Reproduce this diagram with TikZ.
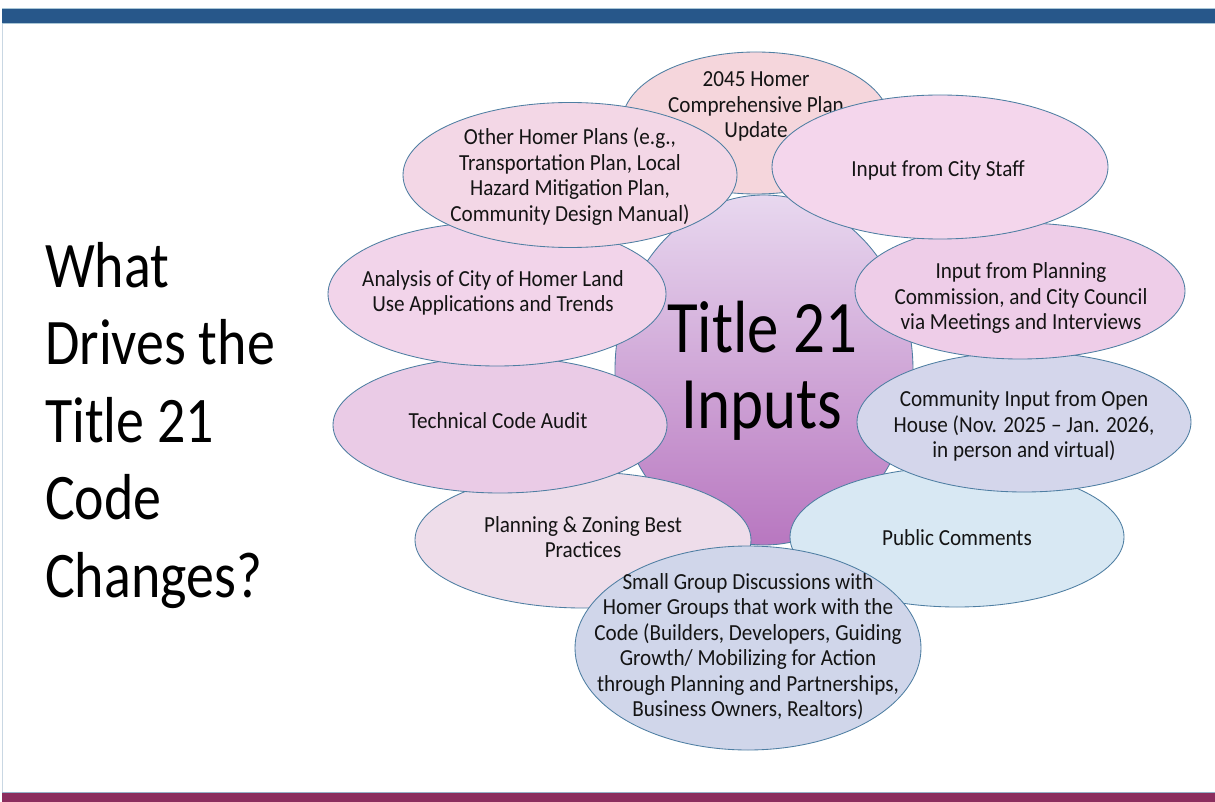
\documentclass[tikz,border=0pt]{standalone}
\usepackage{fontspec}
\usepackage{graphicx}
\setmainfont{Carlito}
\usetikzlibrary{shapes.geometric}
\definecolor{edgec}{HTML}{4E7EA2}
\definecolor{topbar}{HTML}{27578A}
\definecolor{topedge}{HTML}{A9C6D6}
\definecolor{botbar}{HTML}{8B2D5E}
\definecolor{leftc}{HTML}{C9D7E3}
\definecolor{txtc}{HTML}{141414}
\definecolor{cTop}{HTML}{E8D8EF}
\definecolor{cBot}{HTML}{B877C0}
\definecolor{cA}{HTML}{F5D6DC}
\definecolor{cB}{HTML}{F3D7E6}
\definecolor{cC}{HTML}{F4D6EC}
\definecolor{cD}{HTML}{F2D4EA}
\definecolor{cE}{HTML}{EECDE8}
\definecolor{cF}{HTML}{EACBE6}
\definecolor{cG}{HTML}{D4D6EB}
\definecolor{cH}{HTML}{EEDDEA}
\definecolor{cI}{HTML}{D8E8F3}
\definecolor{cJ}{HTML}{D0D6EA}
\newcommand\sqzc[2]{\scalebox{#1}[1]{\begin{tabular}{@{}c@{}}#2\end{tabular}}}
\newcommand\sqzl[2]{\scalebox{#1}[1]{\begin{tabular}[b]{@{}l@{}}#2\end{tabular}}}
\tikzset{
  ell/.style={ellipse, draw=edgec, line width=0.85pt, inner sep=0pt},
  etxt/.style={inner sep=0pt, text=txtc, font=\fontsize{23}{25.5}\selectfont},
}
\begin{document}
\begin{tikzpicture}[x=1pt,y=-1pt]
\useasboundingbox (0,0) rectangle (1215,802);
\fill[white] (0,0) rectangle (1215,802);
% frame bars
\draw[leftc, line width=1.5pt] (2.5,8) -- (2.5,802);
\fill[topbar] (2,8) rectangle (1215,23);
\draw[topedge, line width=0.8pt] (2,8) -- (1215,8);
\draw[topedge, line width=0.8pt] (2,23) -- (1215,23);
\fill[botbar] (2,792) rectangle (1215,802);
\draw[edgec!60, line width=0.6pt] (2,792) -- (1215,792);

% heading
\node[anchor=base west, inner sep=0pt, text=black,
      font=\fontsize{65}{77.5}\selectfont] (head) at (45,597)
  {\sqzl{0.86}{What\\Drives the\\Title 21\\Code\\Changes?}};

% centre
\node[ellipse, draw=edgec, line width=0.85pt, top color=cTop, bottom color=cBot,
      minimum width=298pt, minimum height=350pt, inner sep=0pt] (core) at (764,370) {};
\node[inner sep=0pt, text=black, font=\fontsize{74}{76}\selectfont]
  (coretxt) at (762,375) {\sqzc{0.85}{Title 21\\Inputs}};

% surrounding inputs (drawn bottom to top)
\node[ell, fill=cA, minimum width=268pt, minimum height=142pt] (e1) at (756,123) {};
\node[etxt] (t1) at (756,107) {\sqzc{0.92}{2045 Homer\\Comprehensive Plan\\Update}};

\node[ell, fill=cH, minimum width=336pt, minimum height=136pt] (e8) at (583,540) {};
\node[etxt] (t8) at (583,540) {\sqzc{0.92}{Planning \& Zoning Best\\Practices}};

\node[ell, fill=cF, minimum width=334pt, minimum height=136pt] (e6) at (500,425) {};
\node[etxt] (t6) at (498,423) {\sqzc{0.92}{Technical Code Audit}};

\node[ell, fill=cD, minimum width=338pt, minimum height=144pt] (e4) at (497,294) {};
\node[etxt] (t4) at (493,294) {\sqzc{0.92}{Analysis of City of Homer Land\\Use Applications and Trends}};

\node[ell, fill=cB, minimum width=334pt, minimum height=145pt] (e2) at (570,175) {};
\node[etxt] (t2) at (570,178) {\sqzc{0.92}{Other Homer Plans (e.g.,\\Transportation Plan, Local\\Hazard Mitigation Plan,\\Community Design Manual)}};

\node[ell, fill=cI, minimum width=334pt, minimum height=140pt] (e9) at (957,537) {};
\node[etxt] (t9) at (957,540) {\sqzc{0.92}{Public Comments}};

\node[ell, fill=cG, minimum width=334pt, minimum height=140pt] (e7) at (1024,422) {};
\node[etxt] (t7) at (1024,427) {\sqzc{0.92}{Community Input from Open\\House (Nov. 2025 – Jan. 2026,\\in person and virtual)}};

\node[ell, fill=cE, minimum width=330pt, minimum height=136pt] (e5) at (1020,291) {};
\node[etxt] (t5) at (1021,299) {\sqzc{0.92}{Input from Planning\\Commission, and City Council\\via Meetings and Interviews}};

\node[ell, fill=cC, minimum width=336pt, minimum height=144pt] (e3) at (940,167) {};
\node[etxt] (t3) at (938,171) {\sqzc{0.92}{Input from City Staff}};

\node[ell, fill=cJ, minimum width=346pt, minimum height=204pt] (e10) at (748,648) {};
\node[etxt] (t10) at (748,648) {\sqzc{0.92}{Small Group Discussions with\\Homer Groups that work with the\\Code (Builders, Developers, Guiding\\Growth/ Mobilizing for Action\\through Planning and Partnerships,\\Business Owners, Realtors)}};
\end{tikzpicture}
\end{document}
